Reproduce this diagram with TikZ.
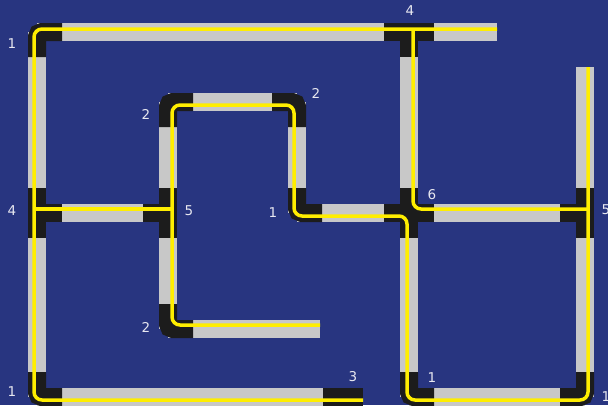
\documentclass[tikz,border=0pt]{standalone}
\usepackage{fontspec}
\setmainfont{DejaVu Sans}
\usepackage{xcolor}
\usetikzlibrary{calc}
\definecolor{bgblue}{RGB}{40,53,128}
\definecolor{railgray}{RGB}{200,200,200}
\definecolor{joint}{RGB}{28,28,28}
\definecolor{routeyellow}{RGB}{255,238,0}
\definecolor{lblwhite}{RGB}{232,232,240}

\begin{document}
\begin{tikzpicture}[x=1pt, y=-1pt,
    track/.style={draw=railgray, line width=18pt},
    blk/.style={draw=joint, line width=18pt, rounded corners=5pt},
    route/.style={draw=routeyellow, line width=3.5pt, rounded corners=8pt},
    lbl/.style={text=lblwhite, inner sep=0pt, font=\fontsize{13.5}{16}\selectfont}]
    \useasboundingbox (0,0) rectangle (608,405);
    \fill[bgblue] (0,0) rectangle (608,405);
    \clip (0,0) rectangle (608,405);
    % junctions (track centres)
    \coordinate (A) at (37,32);
    \coordinate (B) at (409,32);
    \coordinate (C) at (37,213);
    \coordinate (D) at (37,397);
    \coordinate (E) at (168,213);
    \coordinate (F) at (168,102);
    \coordinate (G) at (297,102);
    \coordinate (H) at (297,213);
    \coordinate (I) at (409,213);
    \coordinate (J) at (585,213);
    \coordinate (K) at (409,397);
    \coordinate (L) at (585,397);
    \coordinate (M) at (168,329);
    \coordinate (N) at (343,397);
    % dead ends
    \coordinate (endB) at (497,32);
    \coordinate (endJ) at (585,67);
    \coordinate (endM) at (320,329);
    % rails
    \foreach \s/\t in {A/B, B/endB, A/C, C/D, D/N, C/E, E/F, E/M, F/G, G/H, H/I,
                       I/B, I/J, J/endJ, J/L, L/K, K/I, M/endM}
        \draw[track] (\s) -- (\t);
    % corner pieces
    \foreach \c/\u/\v in {A/{0,25}/{25,0}, D/{0,-25}/{25,0}, F/{0,25}/{25,0},
                          G/{-25,0}/{0,25}, H/{0,-25}/{25,0}, K/{0,-25}/{25,0},
                          L/{0,-25}/{-25,0}, M/{0,-25}/{25,0}}
        \draw[blk] ($(\c)+(\u)$) -- (\c) -- ($(\c)+(\v)$);
    % T and cross pieces
    \draw[blk] ($(B)+(-25,0)$) -- ($(B)+(25,0)$);
    \draw[blk] (B) -- ($(B)+(0,25)$);
    \draw[blk] ($(C)+(0,-25)$) -- ($(C)+(0,25)$);
    \draw[blk] (C) -- ($(C)+(25,0)$);
    \draw[blk] ($(E)+(0,-25)$) -- ($(E)+(0,25)$);
    \draw[blk] (E) -- ($(E)+(-25,0)$);
    \draw[blk] ($(I)+(-25,0)$) -- ($(I)+(25,0)$);
    \draw[blk] ($(I)+(0,-25)$) -- ($(I)+(0,25)$);
    \draw[blk] ($(J)+(0,-25)$) -- ($(J)+(0,25)$);
    \draw[blk] (J) -- ($(J)+(-25,0)$);
    \draw[blk] ($(N)+(-20,0)$) -- ($(N)+(20,0)$);
    % yellow routes
    \draw[route] (497,29) -- (34,29) -- (34,400) -- (363,400);
    \draw[route] (34,209) -- (172,209);
    \draw[route] (413,29) -- (413,209) -- (588,209);
    \draw[route] (588,67) -- (588,400) -- (407,400) -- (407,216) -- (294,216)
        -- (294,105) -- (172,105) -- (172,325) -- (320,325);
    % labels
    \foreach \p/\lab/\nm in {{12,44}/1/lA, {410,11}/4/lB, {12,211}/4/lC, {12,392}/1/lD,
                             {189,211}/5/lE, {146,114}/2/lF, {316,93}/2/lG, {273,213}/1/lH,
                             {432,195}/6/lI, {606,210}/5/lJ, {432,378}/1/lK, {606,397}/1/lL,
                             {146,327}/2/lM, {353,377}/3/lN}
        \node[lbl] (\nm) at (\p) {\lab};
\end{tikzpicture}
\end{document}
